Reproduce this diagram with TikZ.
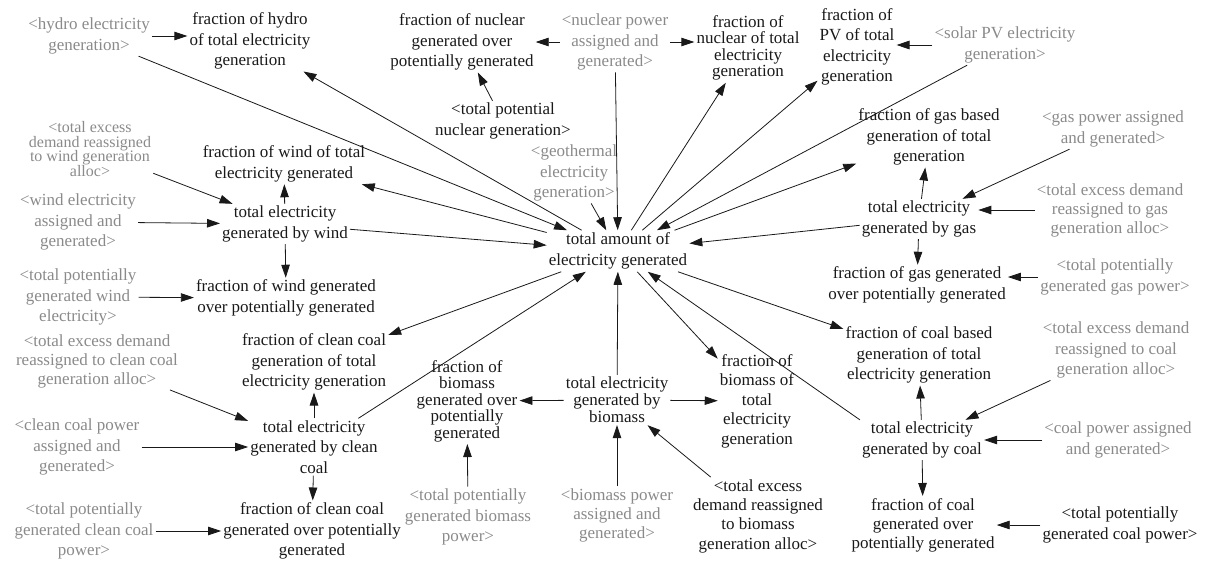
\documentclass[tikz,border=0pt]{standalone}
\usepackage{fontspec}
\setmainfont{Liberation Serif}
\usetikzlibrary{arrows.meta}
\definecolor{shadow}{RGB}{138,138,138}
\definecolor{ink}{RGB}{25,25,25}

\begin{document}
\begin{tikzpicture}[x=1pt,y=-1pt,
  var/.style={align=center, inner sep=2pt, text=ink, font=\fontsize{17}{20.5}\selectfont},
  ghost/.style={var, text=shadow},
  tight/.style={font=\fontsize{17}{#1}\selectfont},
  link/.style={draw=ink, line width=0.8pt, -{Triangle[length=13pt,width=8.5pt]}}
]
\useasboundingbox (0,0) rectangle (1209,560);

% ---- hydro / nuclear / solar row
\node[ghost] (hydroGen) at (89,36) {<hydro electricity\\generation>};
\node[var] (fracHydro) at (250,41) {fraction of hydro\\of total electricity\\generation};
\node[var] (fracNucPot) at (462,42) {fraction of nuclear\\generated over\\potentially generated};
\node[ghost] (nucAssigned) at (615,42) {<nuclear power\\assigned and\\generated>};
\node[var, tight=16.5] (fracNucTot) at (748,48) {fraction of\\nuclear of total\\electricity\\generation};
\node[var] (fracPV) at (857,47) {fraction of\\PV of total\\electricity\\generation};
\node[ghost] (solarPV) at (1005,45) {<solar PV electricity\\generation>};
\node[var] (totalPotNuc) at (503,121) {<total potential\\nuclear generation>};
\node[ghost] (geothermal) at (574,173) {<geothermal\\electricity\\generation>};

% ---- central total
\node[var, tight=21.5] (totalAmount) at (618,251) {total amount of\\electricity generated};

% ---- wind
\node[ghost, font=\fontsize{16}{14.8}\selectfont] (excessWind) at (90,149) {<total excess\\demand reassigned\\to wind generation\\alloc>};
\node[var] (fracWindTot) at (284,164) {fraction of wind of total\\electricity generated};
\node[ghost] (windAssigned) at (78,222) {<wind electricity\\assigned and\\generated>};
\node[var] (totWind) at (285,224) {total electricity\\generated by wind};
\node[ghost] (potWind) at (78,297) {<total potentially\\generated wind\\electricity>};
\node[var] (fracWindPot) at (286,298) {fraction of wind generated\\over potentially generated};

% ---- clean coal
\node[ghost, tight=19] (excessClean) at (97,361) {<total excess demand\\reassigned to clean coal\\generation alloc>};
\node[var] (fracCleanTot) at (314,362) {fraction of clean coal\\generation of total\\electricity generation};
\node[ghost] (cleanAssigned) at (77,447) {<clean coal power\\assigned and\\generated>};
\node[var] (totClean) at (314,447) {total electricity\\generated by clean\\coal};
\node[ghost] (potClean) at (84,531) {<total potentially\\generated clean coal\\power>};
\node[var] (fracCleanPot) at (312,531) {fraction of clean coal\\generated over potentially\\generated};

% ---- biomass
\node[var, tight=16.5] (fracBioPot) at (467,401) {fraction of\\biomass\\generated over\\potentially\\generated};
\node[var, tight=17] (totBio) at (617,400) {total electricity\\generated by\\biomass};
\node[var, tight=19.5] (fracBioTot) at (757,401) {fraction of\\biomass of\\total\\electricity\\generation};
\node[ghost] (potBio) at (468,517) {<total potentially\\generated biomass\\power>};
\node[ghost, tight=19] (bioAssigned) at (617,515) {<biomass power\\assigned and\\generated>};
\node[var, tight=19.3] (excessBio) at (758,516) {<total excess\\demand reassigned\\to biomass\\generation alloc>};

% ---- gas
\node[var] (fracGasTot) at (929,137) {fraction of gas based\\generation of total\\generation};
\node[ghost] (gasAssigned) at (1113,129) {<gas power assigned\\and generated>};
\node[var] (totGas) at (919,219) {total electricity\\generated by gas};
\node[ghost, tight=19] (excessGas) at (1110,210) {<total excess demand\\reassigned to gas\\generation alloc>};
\node[var] (fracGasPot) at (917,285) {fraction of gas generated\\over potentially generated};
\node[ghost] (potGas) at (1115,277) {<total potentially\\generated gas power>};

% ---- coal
\node[var] (fracCoalTot) at (919,355) {fraction of coal based\\generation of total\\electricity generation};
\node[ghost] (excessCoal) at (1116,350) {<total excess demand\\reassigned to coal\\generation alloc>};
\node[var] (totCoal) at (922,440) {total electricity\\generated by coal};
\node[ghost] (coalAssigned) at (1118,440) {<coal power assigned\\and generated>};
\node[var, tight=19] (fracCoalPot) at (923,525) {fraction of coal\\generated over\\potentially generated};
\node[var] (potCoal) at (1120,525) {<total potentially\\generated coal power>};

% ---- connectors: top row
\draw[link] (hydroGen.east) -- (hydroGen.east -| fracHydro.west);
\draw[link] (hydroGen) -- (totalAmount);
\draw[link] (totalAmount) -- (fracHydro);
\draw[link] (nucAssigned.west) -- (nucAssigned.west -| fracNucPot.east);
\draw[link] (nucAssigned.east) -- (nucAssigned.east -| fracNucTot.west);
\draw[link] (totalPotNuc) -- (fracNucPot);
\draw[link] (nucAssigned) -- (totalAmount);
\draw[link] (geothermal) -- (totalAmount);
\draw[link] (totalAmount) -- (fracNucTot);
\draw[link] (totalAmount) -- (fracPV);
\draw[link] (solarPV.west) -- (solarPV.west -| fracPV.east);
\draw[link] (solarPV) -- (totalAmount);

% gas
\draw[link] (totalAmount) -- (fracGasTot);
\draw[link] (gasAssigned) -- (totGas);
\draw[link] (excessGas.west) -- (excessGas.west -| totGas.east);
\draw[link] (totGas) -- (fracGasTot);
\draw[link] (totGas) -- (fracGasPot);
\draw[link] (potGas.west) -- (potGas.west -| fracGasPot.east);
\draw[link] (totGas) -- (totalAmount);

% coal
\draw[link] (totalAmount) -- (fracCoalTot);
\draw[link] (excessCoal) -- (totCoal);
\draw[link] (coalAssigned) -- (totCoal);
\draw[link] (totCoal) -- (fracCoalTot);
\draw[link] (totCoal) -- (fracCoalPot);
\draw[link] (potCoal) -- (fracCoalPot);
\draw[link] (totCoal.north west) -- (totalAmount);

% biomass
\draw[link] (totalAmount) -- (fracBioTot);
\draw[link] (totBio) -- (totalAmount);
\draw[link] (totBio) -- (fracBioPot);
\draw[link] (totBio) -- (fracBioTot);
\draw[link] (potBio) -- (fracBioPot);
\draw[link] (bioAssigned) -- (totBio);
\draw[link] (excessBio) -- (totBio);

% clean coal
\draw[link] (totClean) -- (totalAmount);
\draw[link] (totalAmount) -- (fracCleanTot);
\draw[link] (excessClean) -- (totClean);
\draw[link] (cleanAssigned) -- (totClean);
\draw[link] (totClean) -- (fracCleanTot);
\draw[link] (totClean) -- (fracCleanPot);
\draw[link] (potClean) -- (fracCleanPot);

% wind
\draw[link] (excessWind) -- (totWind);
\draw[link] (windAssigned) -- (totWind);
\draw[link] (totWind) -- (fracWindTot);
\draw[link] (totWind) -- (fracWindPot);
\draw[link] (potWind) -- (fracWindPot);
\draw[link] (totWind) -- (totalAmount);
\draw[link] (totalAmount) -- (fracWindTot);
\end{tikzpicture}
\end{document}
